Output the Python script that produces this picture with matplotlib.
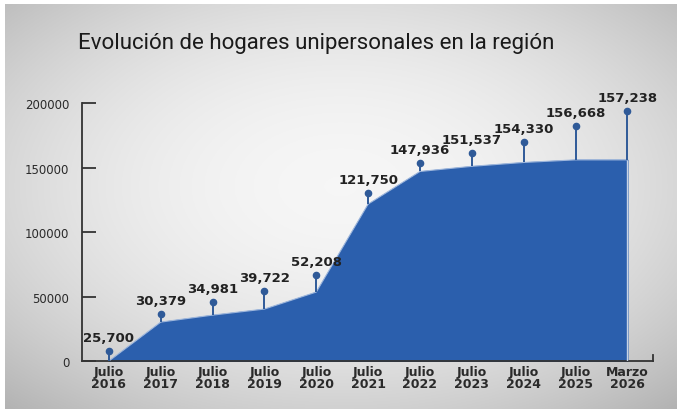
import numpy as np
import matplotlib.pyplot as plt

# data
periods = ["Julio\n2016", "Julio\n2017", "Julio\n2018", "Julio\n2019", "Julio\n2020",
           "Julio\n2021", "Julio\n2022", "Julio\n2023", "Julio\n2024", "Julio\n2025",
           "Marzo\n2026"]
households = [25700, 30379, 34981, 39722, 52208, 121750, 147936, 151537, 154330, 156668, 157238]
# the drawn area (starts at 0 in the original graphic)
area_level = [0, 30200, 35600, 40300, 53500, 121700, 147000, 151000, 154000, 156000, 156000]
# top of each pin (dot position)
pin_top = [7800, 36400, 45700, 54300, 66700, 130000, 153400, 161000, 169700, 182000, 193800]
yticks = [0, 50000, 100000, 150000, 200000]

title = "Evolución de hogares unipersonales en la región"

blue = "#2b5fad"
pin_col = "#2f5a98"
text_col = "#222222"

fig = plt.figure(figsize=(6.77, 4.10), dpi=100, facecolor="white")

# radial grey background (thin white strip on top and left like the original scan)
bg = fig.add_axes([5 / 677, 0, 1 - 5 / 677, 1 - 5 / 410], zorder=-10)
gx, gy = np.meshgrid(np.linspace(0, 1, 400), np.linspace(0, 1, 300))
r2 = ((gx - 0.5) / 0.75) ** 2 + ((gy - 0.45) / 0.75) ** 2
shade = np.clip(0.965 - 0.27 * r2, 0, 1)
bg.imshow(np.dstack([shade] * 3), aspect="auto", extent=[0, 1, 1, 0])
bg.set_xlim(0, 1)
bg.set_ylim(1, 0)
bg.axis("off")

ax = fig.add_axes([0.121, 0.117, 0.844, 0.629])
ax.set_facecolor("none")

x = np.arange(len(periods))
ax.fill_between(x, 0, area_level, color=blue, zorder=2)
ax.plot(x, area_level, color="#9db6dc", lw=0.8, zorder=3)
ax.vlines(x[-1], 0, area_level[-1], color="#c8d4e6", lw=1.0, zorder=3)
ax.vlines(x, area_level, pin_top, color=pin_col, lw=1.4, zorder=4)
ax.scatter(x, pin_top, s=20, color=pin_col, zorder=5, clip_on=False)

for xi, top, v in zip(x, pin_top, households):
    ax.annotate(f"{v:,}", (xi, top), xytext=(0, 5), textcoords="offset points",
                ha="center", va="bottom", fontsize=9.5, fontweight="bold",
                color=text_col, annotation_clip=False, zorder=6)

ax.set_xlim(-0.52, 10.5)
ax.set_ylim(0, 200000)
ax.set_yticks(yticks)
ax.set_yticklabels([str(t) for t in yticks], fontsize=8.5, color="#2a2a2a")
ax.set_xticks(x)
ax.set_xticklabels(periods, fontsize=9, fontweight="bold", color="#2a2a2a",
                   linespacing=0.85)
ax.tick_params(axis="y", direction="in", length=10, width=1.3, color="#333333", pad=9)
ax.tick_params(axis="x", length=0, pad=3)

ax.spines["top"].set_visible(False)
for s in ["left", "bottom", "right"]:
    ax.spines[s].set_color("#333333")
    ax.spines[s].set_linewidth(1.3)
ax.spines["right"].set_bounds(0, 5000)

fig.text(0.467, 0.893, title, ha="center", va="center", fontsize=16,
         color="#1a1a1a", family=["Liberation Sans Narrow", "Roboto", "DejaVu Sans"])

fig.savefig("out.png", dpi=100)
